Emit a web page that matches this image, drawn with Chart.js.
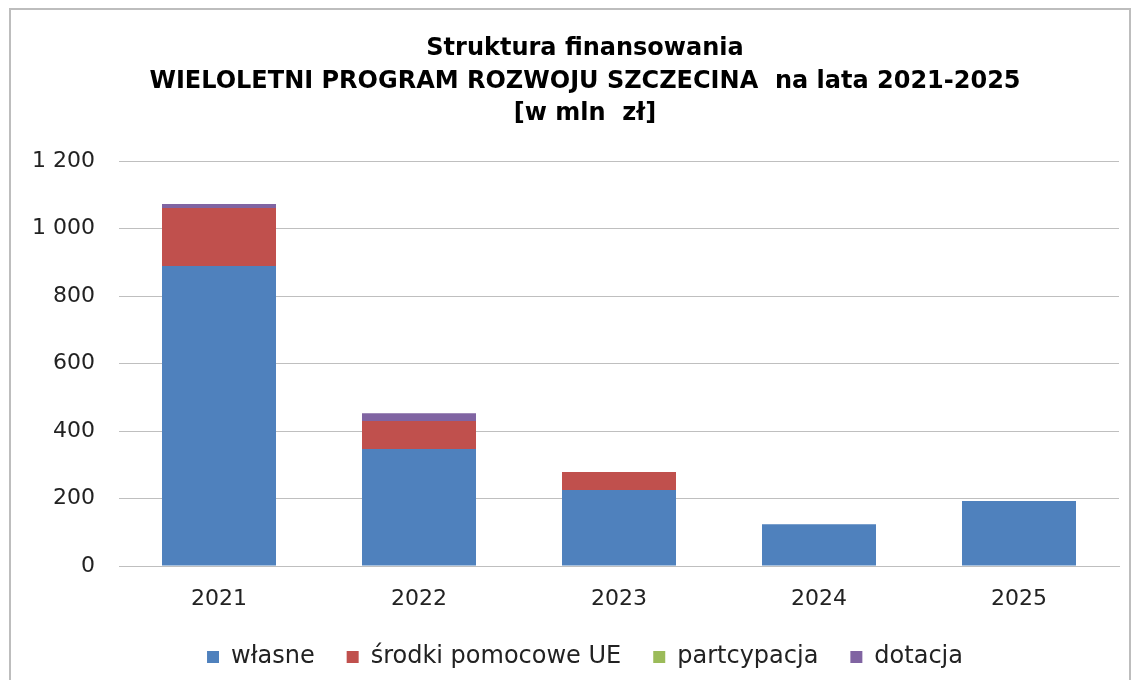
<!DOCTYPE html>
<html lang="pl">
<head>
<meta charset="utf-8">
<title>Struktura finansowania</title>
<script src="https://cdn.jsdelivr.net/npm/chart.js@4/dist/chart.umd.min.js"></script>
<style>
    html, body { margin: 0; padding: 0; background: #fff; }
    #wrap { position: relative; width: 1133px; height: 680px; }
    #frame { position: absolute; left: 9px; top: 8px; right: 2px; bottom: -2px; border: 2px solid #bdbdbd; }
    canvas { position: absolute; left: 0; top: 0; }
</style>
</head>
<body>
<div id="wrap">
    <div id="frame"></div>
    <canvas id="financeChart" width="1133" height="680"></canvas>
</div>
<script>
// --- Data ---
const years = ['2021', '2022', '2023', '2024', '2025'];
const wlasne = [889, 347, 225, 124, 193];
const srodkiUE = [172, 83, 54, 0, 0];
const partycypacja = [0, 0, 0, 0, 0];
const dotacja = [12, 23, 0, 0, 0];
const yTicks = [0, 200, 400, 600, 800, 1000, 1200];

const titleLines = [
    'Struktura finansowania',
    'WIELOLETNI PROGRAM ROZWOJU SZCZECINA  na lata 2021-2025',
    '[w mln  zł]'
];

const FONT = 'DejaVu Sans, Liberation Sans, Arial, sans-serif';
const fmt = v => String(v).replace(/\B(?=(\d{3})+(?!\d))/g, ' ');

// y labels are wider than the axis box; widen the label clip area only
const unclipYLabels = {
    id: 'unclipYLabels',
    afterLayout(chart) {
        chart.scales.y.left = 0;
    }
};

document.addEventListener('DOMContentLoaded', () => {
    const ctx = document.getElementById('financeChart').getContext('2d');

    new Chart(ctx, {
        type: 'bar',
        data: {
            labels: years,
            datasets: [
                { label: 'własne', data: wlasne, backgroundColor: '#4f81bd' },
                { label: 'środki pomocowe UE', data: srodkiUE, backgroundColor: '#c0504d' },
                { label: 'partcypacja', data: partycypacja, backgroundColor: '#9bbb59' },
                { label: 'dotacja', data: dotacja, backgroundColor: '#8064a2' }
            ]
        },
        plugins: [unclipYLabels],
        options: {
            responsive: false,
            animation: false,
            layout: { padding: { left: 51, right: 14, top: 33, bottom: 1 } },
            datasets: {
                bar: { categoryPercentage: 1, barPercentage: 0.57 }
            },
            plugins: {
                title: {
                    display: true,
                    text: titleLines,
                    color: '#000',
                    font: { family: FONT, size: 24, weight: 'bold', lineHeight: 1.35 },
                    padding: { top: 0, bottom: 31 }
                },
                legend: {
                    position: 'bottom',
                    labels: {
                        color: '#222',
                        boxWidth: 12,
                        boxHeight: 12,
                        padding: 32,
                        font: { family: FONT, size: 24 }
                    }
                },
                tooltip: { enabled: false }
            },
            scales: {
                x: {
                    stacked: true,
                    afterFit: axis => { axis.height = 47; },
                    grid: { display: false, drawTicks: false },
                    border: { display: true, color: '#bfbfbf', width: 1 },
                    ticks: {
                        color: '#222',
                        padding: 20,
                        font: { family: FONT, size: 22 }
                    }
                },
                y: {
                    stacked: true,
                    min: 0,
                    max: 1200,
                    afterFit: axis => { axis.width = 68; },
                    afterBuildTicks: axis => { axis.ticks = yTicks.map(v => ({ value: v })); },
                    grid: { color: '#bfbfbf', drawTicks: false },
                    border: { display: false },
                    ticks: {
                        color: '#222',
                        padding: 24,
                        font: { family: FONT, size: 22 },
                        callback: v => fmt(v)
                    }
                }
            }
        }
    });
});
</script>
</body>
</html>
